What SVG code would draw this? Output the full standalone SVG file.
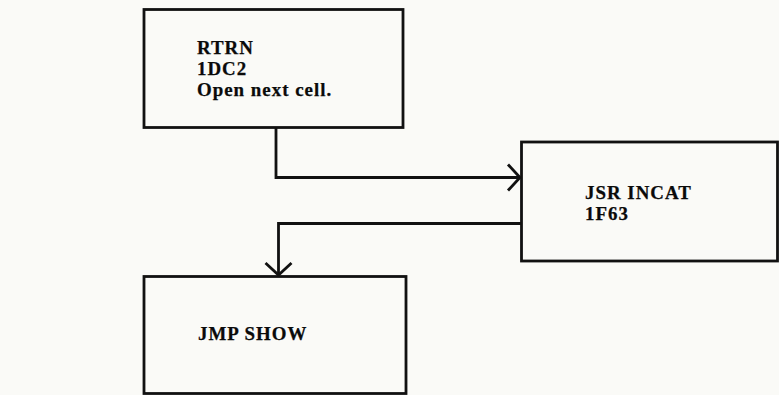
<svg xmlns="http://www.w3.org/2000/svg" width="779" height="395" viewBox="0 0 779 395">
  <style>
    .box { fill: none; stroke: #111; stroke-width: 2.8; }
    .lbl { font-family: "Liberation Serif", "Times New Roman", serif; font-weight: bold; font-size: 18.9px; letter-spacing: 1px; fill: #0a0a0a; stroke: #0a0a0a; stroke-width: 0.25px; }
    .conn { fill: none; stroke: #111; stroke-width: 2.8; }
  </style>
  <defs>
    <marker id="chev" markerUnits="userSpaceOnUse" viewBox="-16 -16 20 32" markerWidth="20" markerHeight="32" refX="0" refY="0" orient="auto">
      <path d="M-12,-13 L0,0 L-12,13" fill="none" stroke="#111" stroke-width="2.8"/>
    </marker>
  </defs>
  <rect width="779" height="395" fill="#fafaf7"/>
  <g id="connectors">
    <path class="conn" d="M276,128 V177.5 H520" marker-end="url(#chev)"/>
    <path class="conn" d="M521,223.5 H278.5 V275" marker-end="url(#chev)"/>
  </g>
  <g id="rtrn">
    <rect class="box" x="144" y="9.5" width="259" height="118"/>
    <text class="lbl" x="197" y="54">RTRN</text>
    <text class="lbl" x="197" y="75">1DC2</text>
    <text class="lbl" x="197" y="96">Open next cell.</text>
  </g>
  <g id="jsr">
    <rect class="box" x="521.5" y="142" width="256" height="119"/>
    <text class="lbl" x="585" y="199">JSR INCAT</text>
    <text class="lbl" x="585" y="220">1F63</text>
  </g>
  <g id="jmp">
    <rect class="box" x="144" y="276.5" width="262" height="117"/>
    <text class="lbl" x="198" y="340">JMP SHOW</text>
  </g>
</svg>
